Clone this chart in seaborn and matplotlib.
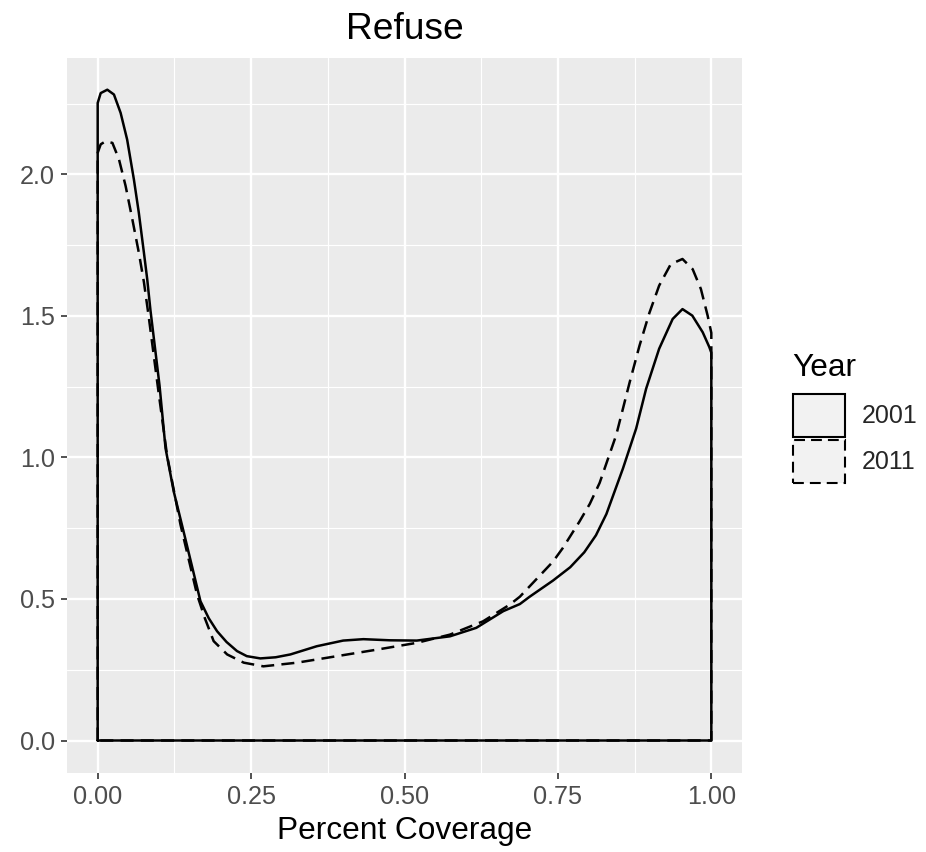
import numpy as np
import pandas as pd
import matplotlib
matplotlib.use("Agg")
import matplotlib.pyplot as plt
from matplotlib.patches import Patch
import seaborn as sns

# Density outline for each year: (x, density) pairs along the curve
x_2001 = [0.0, 0.0049, 0.0157, 0.0265, 0.0374, 0.048, 0.059, 0.067, 0.0753, 0.0807,
          0.086, 0.1008, 0.1106, 0.124, 0.140, 0.1675, 0.181, 0.1946, 0.210, 0.227,
          0.243, 0.265, 0.290, 0.314, 0.357, 0.400, 0.433, 0.476, 0.520, 0.574,
          0.617, 0.661, 0.688, 0.704, 0.742, 0.770, 0.793, 0.812, 0.829, 0.856,
          0.8775, 0.8938, 0.915, 0.937, 0.953, 0.969, 0.986, 0.9967, 1.0]
y_2001 = [2.252, 2.287, 2.299, 2.282, 2.217, 2.123, 1.982, 1.865, 1.724, 1.630,
          1.520, 1.254, 1.032, 0.879, 0.738, 0.492, 0.432, 0.386, 0.348, 0.316,
          0.298, 0.290, 0.294, 0.304, 0.333, 0.353, 0.358, 0.354, 0.353, 0.368,
          0.398, 0.457, 0.482, 0.508, 0.565, 0.612, 0.665, 0.725, 0.800, 0.961,
          1.102, 1.243, 1.384, 1.489, 1.524, 1.501, 1.442, 1.390, 1.370]

x_2011 = [0.0, 0.0049, 0.013, 0.024, 0.0347, 0.0455, 0.0564, 0.067, 0.0753, 0.083,
          0.098, 0.113, 0.135, 0.162, 0.175, 0.189, 0.211, 0.238, 0.270, 0.325,
          0.390, 0.455, 0.520, 0.574, 0.628, 0.6715, 0.688, 0.715, 0.742, 0.758,
          0.785, 0.802, 0.818, 0.845, 0.867, 0.883, 0.899, 0.915, 0.934, 0.953,
          0.9696, 0.983, 0.994, 1.0]
y_2011 = [2.076, 2.106, 2.117, 2.111, 2.053, 1.959, 1.842, 1.724, 1.620, 1.500,
          1.250, 1.008, 0.762, 0.515, 0.430, 0.351, 0.304, 0.275, 0.262, 0.275,
          0.298, 0.321, 0.345, 0.374, 0.421, 0.480, 0.508, 0.570, 0.632, 0.680,
          0.773, 0.836, 0.910, 1.079, 1.266, 1.395, 1.510, 1.607, 1.683, 1.701,
          1.665, 1.595, 1.501, 1.440]

years = ["2001", "2011"]
x_ticks = [0.0, 0.25, 0.5, 0.75, 1.0]
x_tick_labels = ["0.00", "0.25", "0.50", "0.75", "1.00"]
y_ticks = [0.0, 0.5, 1.0, 1.5, 2.0]
y_tick_labels = ["0.0", "0.5", "1.0", "1.5", "2.0"]


def closed_outline(xs, ys, year):
    # Density polygon: drop to zero at both ends and run back along the baseline
    px = [xs[0]] + list(xs) + [xs[-1], xs[0]]
    py = [0.0] + list(ys) + [0.0, 0.0]
    return pd.DataFrame({"x": px, "y": py, "Year": year})


df = pd.concat([closed_outline(x_2001, y_2001, years[0]),
                closed_outline(x_2011, y_2011, years[1])], ignore_index=True)

sns.set_theme(style="darkgrid")
plt.rcParams["font.family"] = ["Liberation Sans", "DejaVu Sans"]

fig = plt.figure(figsize=(9.26, 8.52), dpi=100)
ax = fig.add_axes([67 / 926, 1 - 773 / 852, (742 - 67) / 926, (773 - 58) / 852])
ax.set_facecolor("#EBEBEB")

lw = 1.8
dash = (5.2, 2.9)
sns.lineplot(data=df, x="x", y="y", style="Year", style_order=years,
             dashes={"2001": "", "2011": dash}, color="black",
             sort=False, estimator=None, linewidth=lw, legend=False, ax=ax)
for line in ax.lines:
    line.set_solid_joinstyle("round")
    line.set_dash_joinstyle("round")

ax.set_xlim(-0.05, 1.05)
ax.set_ylim(-0.1148, 2.411)
ax.set_xticks(x_ticks)
ax.set_xticklabels(x_tick_labels)
ax.set_yticks(y_ticks)
ax.set_yticklabels(y_tick_labels)
ax.set_xticks([0.125, 0.375, 0.625, 0.875], minor=True)
ax.set_yticks([0.25, 0.75, 1.25, 1.75, 2.25], minor=True)

ax.grid(which="major", color="white", linewidth=1.7)
ax.grid(which="minor", color="white", linewidth=0.85)
ax.set_axisbelow(True)
for s in ax.spines.values():
    s.set_visible(False)

ax.tick_params(axis="both", which="major", length=4.5, width=1.2, color="#333333",
               labelsize=18.2, labelcolor="#4D4D4D", pad=4, bottom=True, left=True)
ax.tick_params(axis="both", which="minor", length=0)

ax.set_xlabel("Percent Coverage", fontsize=22.8, color="black", labelpad=5)
ax.set_ylabel("")
ax.set_title("Refuse", fontsize=26.7, color="black", pad=14)

# Legend: title placed as its own text, keys as outlined boxes
fig.text(792 / 926, 1 - 368 / 852, "Year", fontsize=22.8, color="black",
         ha="left", va="center")
handles = [Patch(facecolor="#F2F2F2", edgecolor="black", linewidth=1.5, linestyle="-"),
           Patch(facecolor="#F2F2F2", edgecolor="black", linewidth=1.5,
                 linestyle=(0, dash))]
fig.legend(handles, years, loc="upper left",
           bbox_to_anchor=(793 / 926, 1 - 394 / 852), frameon=False,
           fontsize=18, handlelength=2.08, handleheight=2.27,
           labelspacing=0.12, handletextpad=0.68, borderpad=0, borderaxespad=0)

fig.savefig("out.png", dpi=100)
